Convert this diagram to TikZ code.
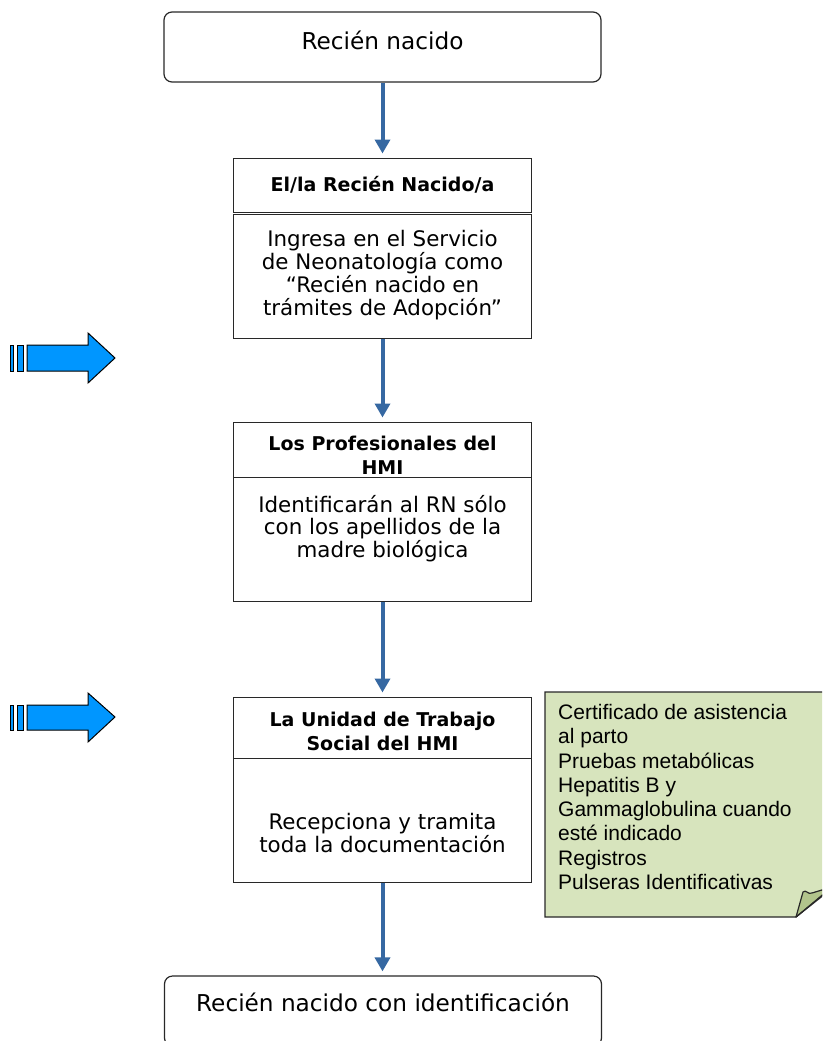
\documentclass[tikz,border=0pt]{standalone}
\usepackage{fontspec}
\setmainfont{DejaVu Sans}
\newfontfamily\notefont{Liberation Sans}
\usetikzlibrary{arrows.meta}
\definecolor{flowblue}{RGB}{54,104,162}
\definecolor{brightblue}{RGB}{0,150,255}
\definecolor{notegreen}{RGB}{215,228,189}
\definecolor{foldgreen}{RGB}{178,196,140}
\definecolor{boxline}{RGB}{40,40,40}
\tikzset{
  roundbox/.style={draw=boxline, line width=1.2pt, rounded corners=8pt, minimum width=437pt, inner sep=0pt},
  headbox/.style={draw=boxline, line width=1pt, minimum width=298pt, inner sep=0pt},
  bodybox/.style={draw=boxline, line width=1pt, minimum width=298pt, inner sep=0pt},
  bigtxt/.style={inner sep=0pt, font=\fontsize{23.2}{26}\selectfont},
  bodytxt/.style={inner sep=0pt, align=center, font=\fontsize{21.4}{22.8}\selectfont},
  headtxt/.style={inner sep=0pt, align=center, font=\bfseries\fontsize{19}{24}\selectfont},
  notetxt/.style={inner sep=0pt, align=left, anchor=west, font=\notefont\fontsize{21}{24.3}\selectfont},
  flow/.style={draw=flowblue, line width=4pt, -{Triangle[width=15pt,length=14pt]}, shorten >=4pt},
  bigarrow/.style={draw=black, line width=1pt, fill=brightblue, line join=miter},
}
\begin{document}
\begin{tikzpicture}[x=1pt,y=-1pt]
\useasboundingbox (0,0) rectangle (822,1041);
\clip (0,0) rectangle (822,1041);
% boxes
\node[roundbox, minimum height=70pt] (n1) at (382.5,47) {};
\node[bigtxt] (t1) at (382.5,40) {Recién nacido};

\node[headbox, minimum height=54pt] (h2) at (382.5,185) {};
\node[headtxt] (th2) at (382.5,185) {El/la Recién Nacido/a};
\node[bodybox, minimum height=124pt] (b2) at (382.5,276) {};
\node[bodytxt] (tb2) at (382.5,275) {Ingresa en el Servicio\\de Neonatología como\\“Recién nacido en\\trámites de Adopción”};

\node[headbox, minimum height=55pt] (h3) at (382.5,449.5) {};
\node[headtxt] (th3) at (382.5,455) {Los Profesionales del\\HMI};
\node[bodybox, minimum height=124pt] (b3) at (382.5,539) {};
\node[bodytxt] (tb3) at (382.5,528.5) {Identificarán al RN sólo\\con los apellidos de la\\madre biológica};

\node[headbox, minimum height=61pt] (h4) at (382.5,727.5) {};
\node[headtxt] (th4) at (382.5,731) {La Unidad de Trabajo\\Social del HMI};
\node[bodybox, minimum height=124pt] (b4) at (382.5,820) {};
\node[bodytxt] (tb4) at (382.5,833) {Recepciona y tramita\\toda la documentación};

\node[roundbox, minimum height=70pt] (n5) at (383,1011) {};
\node[bigtxt] (t5) at (383,1002) {Recién nacido con identificación};

% connectors
\draw[flow] (n1.south -| h2.north) -- (h2.north);
\draw[flow] (b2.south) -- (h3.north);
\draw[flow] (b3.south) -- (h4.north);
\draw[flow] (b4.south) -- (n5.north -| b4.south);

% note
\path[fill=notegreen, draw=boxline, line width=1.2pt]
  (545,692) -- (845,692) -- (845,876) -- (796,917) -- (545,917) -- cycle;
\path[fill=foldgreen, draw=boxline, line width=1.2pt, line join=round]
  (796,917) -- (803,892) .. controls (806,889) and (808,895) .. (812,893) -- (835,886) -- cycle;
\draw[boxline, line width=1.2pt] (796,917) -- (845,876);
\node[notetxt] (note) at (558,797) {Certificado de asistencia\\al parto\\Pruebas metabólicas\\Hepatitis B y\\Gammaglobulina cuando\\esté indicado\\Registros\\Pulseras Identificativas};

% striped arrows
\draw[bigarrow] (10,345) rectangle (13,371);
\draw[bigarrow] (17,345) rectangle (23,371);
\draw[bigarrow] (27,345) -- (88,345) -- (88,333) -- (115,358) -- (88,383) -- (88,371) -- (27,371) -- cycle;

\draw[bigarrow] (10,705) rectangle (13,730);
\draw[bigarrow] (17,705) rectangle (23,730);
\draw[bigarrow] (27,705) -- (88,705) -- (88,693) -- (115,717) -- (88,742) -- (88,730) -- (27,730) -- cycle;
\end{tikzpicture}
\end{document}
